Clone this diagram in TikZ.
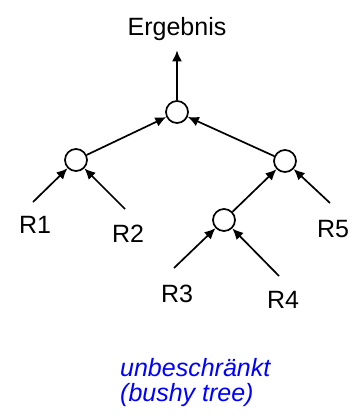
\documentclass[tikz,border=0pt]{standalone}
\usepackage{fontspec}
\setmainfont{Liberation Sans}
\usetikzlibrary{arrows.meta}

\begin{document}
\begin{tikzpicture}[
    x=1pt, y=-1pt,
    opnode/.style={
        circle, draw=black, fill=white, line width=1.7pt,
        minimum size=22pt, inner sep=0pt
    },
    relname/.style={
        anchor=base, inner sep=0pt, font=\fontsize{25}{25}\selectfont
    },
    treenote/.style={
        anchor=base west, inner sep=0pt, align=left, text=blue,
        font=\fontsize{25}{24.5}\selectfont\itshape
    },
    arrow/.style={draw, -{Latex[length=11pt,width=10pt]}, line width=1.7pt}
]
\useasboundingbox (0,0) rectangle (356,416);

% result and join operators
\node [relname] (result) at (177,35) {Ergebnis};
\node [opnode] (jtop)   at (177,112) {};
\node [opnode] (jleft)  at (76,160)  {};
\node [opnode] (jright) at (285,161) {};
\node [opnode] (jmid)   at (224,220) {};

% base relations
\node [relname] (r1) at (35,233)  {R1};
\node [relname] (r2) at (128,242) {R2};
\node [relname] (r3) at (177,302) {R3};
\node [relname] (r4) at (283,308) {R4};
\node [relname] (r5) at (333,237) {R5};

\coordinate (r1end) at (33,202);
\coordinate (r2end) at (125,209);
\coordinate (r3end) at (174,268);
\coordinate (r4end) at (279,276);
\coordinate (r5end) at (330,203);

\node [treenote] (kind) at (120,401) {unbeschränkt\\(bushy tree)};

\draw [arrow] (jtop)   -- ([yshift=-10pt]result.south);
\draw [arrow] (jleft)  -- (jtop);
\draw [arrow] (jright) -- (jtop);
\draw [arrow] (r1end)  -- (jleft);
\draw [arrow] (r2end)  -- (jleft);
\draw [arrow] (jmid)   -- (jright);
\draw [arrow] (r5end)  -- (jright);
\draw [arrow] (r3end)  -- (jmid);
\draw [arrow] (r4end)  -- (jmid);
\end{tikzpicture}
\end{document}
